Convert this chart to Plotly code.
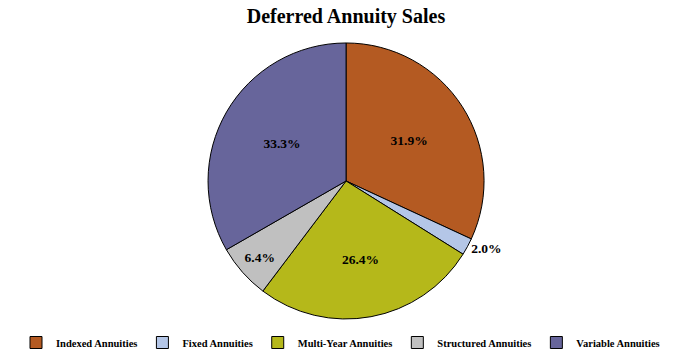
import plotly.graph_objects as go

categories = ["Indexed Annuities", "Fixed Annuities", "Multi-Year Annuities",
              "Structured Annuities", "Variable Annuities"]
shares = [31.9, 2.0, 26.4, 6.4, 33.3]
colors = ["#B45A22", "#B4C6E7", "#B5B81A", "#C0C0C0", "#67659B"]
text_pos = ["inside", "outside", "inside", "inside", "inside"]

fig = go.Figure(go.Pie(
    labels=categories,
    values=shares,
    sort=False,
    direction="clockwise",
    rotation=0,
    marker=dict(colors=colors, line=dict(color="black", width=1)),
    texttemplate="<b>%{value:.1f}%</b>",
    textposition=text_pos,
    insidetextorientation="horizontal",
    textfont=dict(family="Liberation Serif", size=13.5, color="black"),
    domain=dict(x=[0.3055, 0.7108], y=[0.1064, 0.8797]),
    showlegend=True,
))

fig.update_layout(
    width=681, height=357,
    margin=dict(l=0, r=0, t=0, b=0),
    paper_bgcolor="white",
    plot_bgcolor="white",
    font=dict(family="Liberation Serif", color="black"),
    title=dict(text="<b>Deferred Annuity Sales</b>", x=0.508, xanchor="center",
               y=0.955, yanchor="middle",
               font=dict(family="Liberation Serif", size=20, color="black")),
    legend=dict(orientation="h", x=0.5, xanchor="center", y=0.0, yanchor="bottom",
                font=dict(family="Liberation Serif", size=10.5, color="black", weight="bold"),
                itemwidth=30, traceorder="normal"),
)

fig.write_html("out.html", config={"displayModeBar": False},
               post_script="document.body.style.margin='0';document.body.style.padding='0';")
